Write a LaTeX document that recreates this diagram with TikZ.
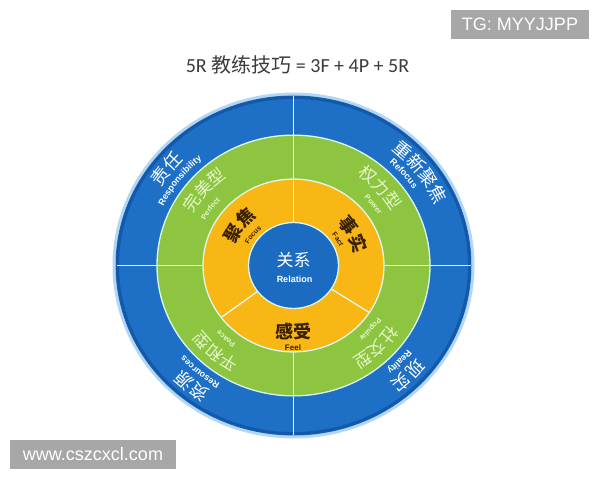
\documentclass[tikz,border=0pt]{standalone}
\usepackage{fontspec}
\usepackage{xcolor}
\usetikzlibrary{calc,decorations.text}
\setmainfont{Carlito}
\newfontfamily\cjk{Noto Sans CJK SC}
\newfontfamily\arial{Liberation Sans}
\definecolor{bg}{HTML}{FFFFFF}
\definecolor{ringblue}{HTML}{1D70C6}
\definecolor{rimblue}{HTML}{1459A9}
\definecolor{glow}{HTML}{B3D7F3}
\definecolor{ringgreen}{HTML}{8DC540}
\definecolor{ringorange}{HTML}{F9B716}
\definecolor{coreblue}{HTML}{1B6CC1}
\definecolor{sep}{HTML}{DDF6EE}
\definecolor{paleg}{HTML}{E6F5CC}
\definecolor{darkink}{HTML}{3A2200}
\definecolor{titlegray}{HTML}{3C3C3C}
\definecolor{tagbg}{HTML}{A7A7A7}
\tikzset{
  sepline/.style={draw=sep, line width=1.3pt},
  tagbox/.style={fill=tagbg, text=white, font=\arial\fontsize{18}{18}\selectfont,
    minimum height=29pt, inner sep=0pt},
  corelab/.style={inner sep=0pt}
}
% fonts of the ring labels
\newcommand\outcn{\cjk\fontsize{18}{18}\selectfont\color{white}}
\newcommand\outen{\arial\bfseries\fontsize{9}{9}\selectfont\color{white}}
\newcommand\midcn{\cjk\fontsize{17}{17}\selectfont\color{paleg}}
\newcommand\miden{\arial\bfseries\fontsize{7.5}{7.5}\selectfont\color{paleg}}
\newcommand\incn{\cjk\bfseries\fontsize{18}{18}\selectfont\color{darkink}}
\newcommand\inen{\arial\bfseries\fontsize{7}{7}\selectfont\color{darkink}}
% text on a clockwise arc: angle, baseline radius, format, text
\newcommand\ringtext[4]{%
  \pgfmathsetmacro\rtA{#1+40}\pgfmathsetmacro\rtB{#1-40}%
  \path[decorate, decoration={text along path, text align=center, text={|#3|#4}}]
    (\rtA:#2pt) arc[start angle=\rtA, end angle=\rtB, radius=#2pt];}

\begin{document}
\begin{tikzpicture}[x=1pt,y=1pt]
  \useasboundingbox[fill=bg] (0,0) rectangle (600,480);

  \node[font=\fontsize{20}{20}\selectfont, text=titlegray] (title) at (297.5,415)
    {5R {\cjk 教练技巧} = 3F + 4P + 5R};

  \begin{scope}[shift={(293.5,214.5)}, yscale=0.955]
    \coordinate (O) at (0,0);
    % rings
    \draw[glow, line width=3pt] (O) circle (179.5);
    \fill[ringblue] (O) circle (178);
    \draw[rimblue, line width=3pt] (O) circle (176);
    \fill[ringgreen] (O) circle (136.5);
    \fill[ringorange] (O) circle (90.5);
    \fill[coreblue] (O) circle (45);
    \foreach \r in {136.5,90.5,45}
      \draw[sepline] (O) circle (\r);
    \foreach \a in {0,90,180,270}
      \draw[sepline] (\a:90.5) -- (\a:177);
    \foreach \a in {90,217,327}
      \draw[sepline] (\a:45) -- (\a:90.5);

    % outer ring
    \ringtext{142}{156}{\outcn}{责任}
    \ringtext{142.5}{144}{\outen}{Responsibility}
    \ringtext{37}{156}{\outcn}{重新聚焦}
    \ringtext{40.5}{144}{\outen}{Refocus}
    \ringtext{230.5}{156}{\outcn}{资源}
    \ringtext{229.5}{144}{\outen}{Resources}
    \ringtext{315.5}{156}{\outcn}{现实}
    \ringtext{317}{144}{\outen}{Reality}
    % middle ring
    \ringtext{139}{114}{\midcn}{完美型}
    \ringtext{145}{100}{\miden}{Perfect}
    \ringtext{42.5}{114}{\midcn}{权力型}
    \ringtext{38}{100}{\miden}{Power}
    \ringtext{228.5}{114}{\midcn}{平和型}
    \ringtext{228}{100}{\miden}{Peace}
    \ringtext{314.5}{114}{\midcn}{社交型}
    \ringtext{319.5}{100}{\miden}{Popular}
    % inner ring
    \ringtext{143}{62}{\incn}{聚焦}
    \ringtext{142}{50}{\inen}{Focus}
    \ringtext{28}{62}{\incn}{事实}
    \ringtext{31}{50}{\inen}{Fact}
  \end{scope}

  \node[corelab, font=\incn] (feel) at (293,149) {感受};
  \node[corelab, font=\arial\bfseries\fontsize{8}{8}\selectfont, text=darkink] (feelen) at (293,132) {Feel};
  \node[corelab, font=\cjk\fontsize{17}{17}\selectfont, text=white] (rel) at (293.5,220) {关系};
  \node[corelab, font=\arial\bfseries\fontsize{9}{9}\selectfont, text=white] (relen) at (294.5,201) {Relation};

  \node[tagbox, minimum width=138pt] (tg) at (520,455.5) {TG: MYYJJPP};
  \node[tagbox, minimum width=166pt] (site) at (93,25.5) {www.cszcxcl.com};
\end{tikzpicture}
\end{document}
